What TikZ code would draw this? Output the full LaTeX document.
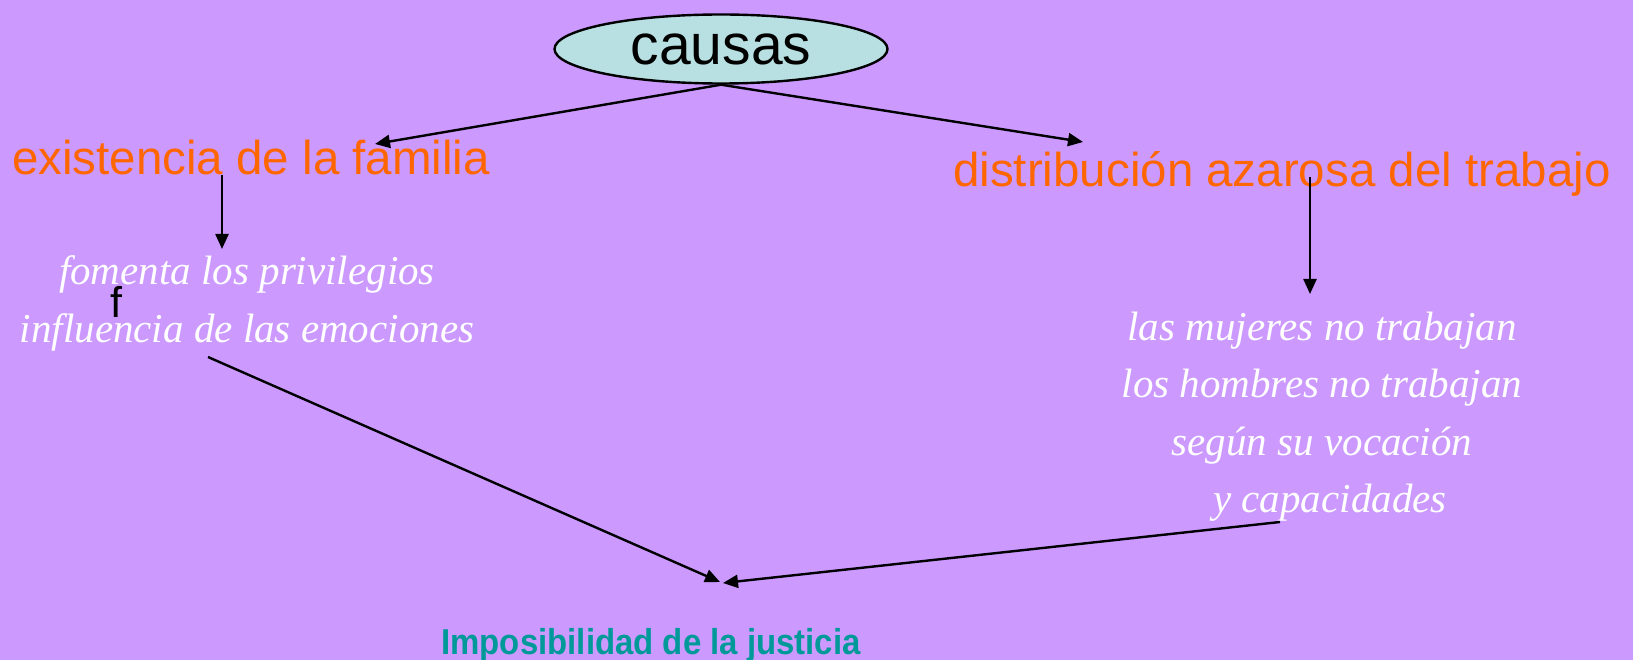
\documentclass[tikz,border=0pt]{standalone}
\usepackage{fontspec}
\usetikzlibrary{shapes.geometric,arrows.meta}

\newfontfamily\arialfont{Liberation Sans}
\newfontfamily\narrowfont[FakeStretch=0.915]{Liberation Sans}
\newfontfamily\timesfont{Liberation Serif}

\definecolor{fondo}{HTML}{CC99FF}
\definecolor{causafill}{HTML}{B8E0E2}
\definecolor{naranja}{HTML}{FF6600}
\definecolor{verdeazul}{HTML}{009999}

\tikzset{
  flecha/.style={line width=2.4pt, -{Triangle[length=15pt,width=13pt]}},
  titulo/.style={text=naranja, inner sep=0, font=\arialfont\fontsize{47.5}{55}\selectfont},
  efecto/.style={text=white, inner sep=0, anchor=base, font=\timesfont\itshape\fontsize{41}{57}\selectfont}
}

\begin{document}
\begin{tikzpicture}[x=1pt, y=-1pt]

  % --- fondo ---
  \fill[fondo] (0,0) rectangle (1633,660);
  \useasboundingbox (0,0) rectangle (1633,660);

  % --- causas ---
  \node[ellipse, draw, line width=2.4pt, fill=causafill, minimum width=333pt, minimum height=69pt, inner sep=0]
    (causas) at (721,49) {\arialfont\fontsize{57}{60}\selectfont causas};

  \node[titulo, anchor=base west] (familia) at (12,175) {existencia de la familia};
  \node[titulo, anchor=base west] (trabajo) at (953,187) {distribución azarosa del trabajo};

  \coordinate (pfam) at (375,144);
  \coordinate (ptra) at (1083,142);
  \draw[flecha] (causas.south) -- (pfam);
  \draw[flecha] (causas.south) -- (ptra);

  % --- efectos ---
  \node[efecto] (fomenta) at (247,285) {fomenta los privilegios};
  \node[efecto] (influencia) at (247,342) {influencia de las emociones};
  \node[anchor=base west, inner sep=0, font=\arialfont\fontsize{43}{50}\selectfont] (letraf) at (110,318) {f};

  \node[efecto] (mujeres) at (1322,340) {las mujeres no trabajan};
  \node[efecto] (hombres) at (1322,397) {los hombres no trabajan};
  \node[efecto] (vocacion) at (1322,455) {según su vocación};
  \node[efecto] (capacidades) at (1330,512) {y capacidades};

  \coordinate (famA) at (222,175);
  \coordinate (famB) at (222,249);
  \coordinate (traA) at (1310,177);
  \coordinate (traB) at (1310,294);
  \draw[flecha] (famA) -- (famB);
  \draw[flecha] (traA) -- (traB);

  % --- consecuencia ---
  \node[text=verdeazul, anchor=base, inner sep=0, font=\narrowfont\bfseries\fontsize{36}{40}\selectfont]
    (justicia) at (651,654) {Imposibilidad de la justicia};

  \coordinate (izqA) at (208,357);
  \coordinate (derA) at (1280,522);
  \coordinate (finA) at (720,582);
  \coordinate (finB) at (723,583);
  \draw[flecha] (izqA) -- (finA);
  \draw[flecha] (derA) -- (finB);

\end{tikzpicture}
\end{document}
